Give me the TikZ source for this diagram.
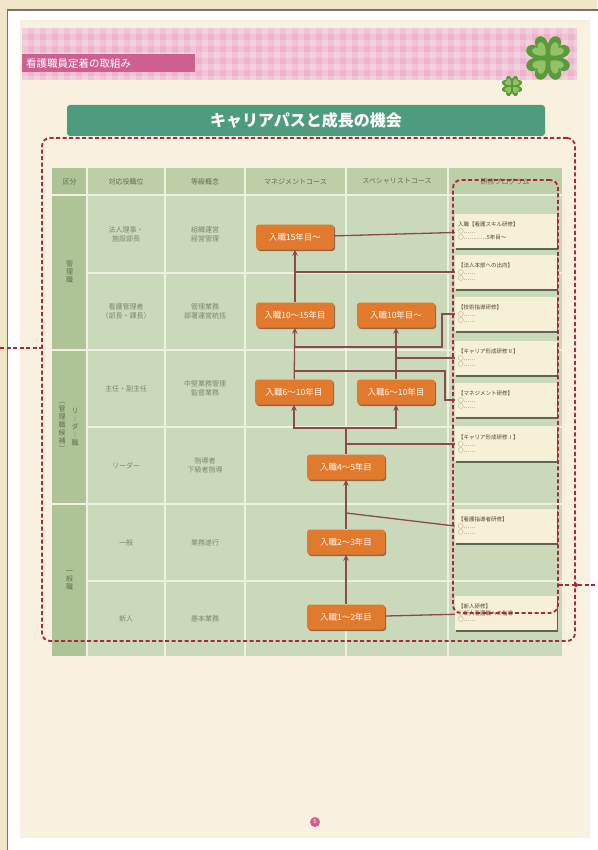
\documentclass[tikz,border=0pt]{standalone}
\usepackage{fontspec}
\setmainfont{Noto Sans CJK JP}
\usepackage{tikz}
\usetikzlibrary{arrows.meta,positioning,shadows}

\definecolor{deskbg}{HTML}{F1E6C8}
\definecolor{sheet}{HTML}{F9F1DF}
\definecolor{bandpink}{HTML}{EDB3CB}
\definecolor{tagpink}{HTML}{CE5F91}
\definecolor{titlegreen}{HTML}{4E9B7D}
\definecolor{sagebody}{HTML}{CAD9B9}
\definecolor{sagehead}{HTML}{BCCFA6}
\definecolor{sagefirst}{HTML}{AEC496}
\definecolor{gridline}{HTML}{EEF1DF}
\definecolor{stageorange}{HTML}{E27A2D}
\definecolor{stageshade}{HTML}{93674A}
\definecolor{linkbrown}{HTML}{8C4B4B}
\definecolor{framered}{HTML}{A8283C}
\definecolor{progcream}{HTML}{F5F0D6}
\definecolor{progshade}{HTML}{5F6352}
\definecolor{celltext}{HTML}{7B8671}
\definecolor{headtext}{HTML}{5F6E52}
\definecolor{progtext}{HTML}{5A4236}
\definecolor{leafdark}{HTML}{5A9A3C}
\definecolor{leaflight}{HTML}{93C266}

\tikzset{
  gridrule/.style={draw=gridline,line width=1.3pt},
  headcell/.style={font=\fontsize{7}{8}\selectfont,text=headtext},
  bodycell/.style={font=\fontsize{7}{9}\selectfont,text=celltext,align=center},
  groupcell/.style={font=\fontsize{7}{8}\selectfont,text=headtext,align=center,inner sep=0pt},
  stage/.style={rectangle,rounded corners=3pt,fill=stageorange,text=white,
    minimum width=78pt,minimum height=25pt,font=\fontsize{8.5}{9}\selectfont,
    drop shadow={shadow xshift=1.2pt,shadow yshift=-1.5pt,fill=stageshade,opacity=1}},
  prog/.style={rectangle,fill=progcream,minimum width=102pt,minimum height=34pt,
    text width=96pt,align=left,inner sep=3pt,font=\fontsize{5.5}{6.5}\selectfont,text=progtext,
    drop shadow={shadow xshift=0.8pt,shadow yshift=-2pt,fill=progshade,opacity=1}},
  link/.style={draw=linkbrown,line width=1.3pt},
  dashframe/.style={draw=framered,line width=1.8pt,dash pattern=on 4pt off 2.5pt,rounded corners=8pt},
  clover/.pic={
    \foreach \a in {45,135,225,315}{
      \fill[leafdark,rotate=\a] (0,0) .. controls (-9,-5) and (-12,-15) .. (-6,-17)
        .. controls (-3,-18) and (0,-15) .. (0,-13) .. controls (0,-15) and (3,-18) .. (6,-17)
        .. controls (12,-15) and (9,-5) .. (0,0);
      \fill[leaflight,rotate=\a] (0,-3) .. controls (-5,-6) and (-7,-12) .. (-4,-13)
        .. controls (-2,-14) and (0,-12) .. (0,-11) .. controls (0,-12) and (2,-14) .. (4,-13)
        .. controls (7,-12) and (5,-6) .. (0,-3);
    }
  }
}
\tikzstyle{arrow} = [link,-{Stealth[length=6pt,width=5.5pt]}]

\begin{document}
\begin{tikzpicture}[x=1pt,y=-1pt]
  \useasboundingbox (0,0) rectangle (597,850);
  % page sheet
  \fill[deskbg] (0,0) rectangle (597,850);
  \filldraw[fill=white,draw=black!55,line width=1.2pt] (7.5,10) rectangle (600,855);
  \fill[sheet] (20,20) rectangle (590,838);

  % gingham header band
  \fill[bandpink] (22,28) rectangle (577,80);
  \begin{scope}
    \clip (22,28) rectangle (577,80);
    \foreach \x in {22,34,...,580} \fill[white,opacity=.22] (\x,28) rectangle ++(6,52);
    \foreach \y in {28,40,...,80} \fill[white,opacity=.22] (22,\y) rectangle ++(555,6);
  \end{scope}
  \node[fill=tagpink,text=white,font=\fontsize{10.5}{11}\selectfont,minimum height=18pt,
    text width=165pt,align=left,inner xsep=4pt,inner ysep=0pt] (tag) at (108.5,63.5) {看護職員定着の取組み};
  \pic[scale=1.3] at (548,58) {clover};
  \pic[scale=.6] at (512,86) {clover};

  % title bar
  \node[fill=titlegreen,rounded corners=3pt,minimum width=478pt,minimum height=31pt,text=white,
    font=\fontsize{16}{16}\selectfont\bfseries] (title) at (306,120.5) {キャリアパスと成長の機会};

  % career table
  \fill[sagebody] (52,168) rectangle (562,656);
  \fill[sagehead] (52,168) rectangle (562,195);
  \fill[sagefirst] (52,168) rectangle (87,656);
  \foreach \x in {87,165,245,346,448} \draw[gridrule] (\x,168) -- (\x,656);
  \foreach \y in {195,350,504} \draw[gridrule] (52,\y) -- (562,\y);
  \foreach \y in {273,427,581} \draw[gridrule] (87,\y) -- (562,\y);

  \foreach \x/\t [count=\i] in {69.5/区分,126/対応役職位,205/等級概念,295.5/マネジメントコース,
      397/スペシャリストコース,505/研修プログラム}
    \node[headcell] (head\i) at (\x,181.5) {\t};
  \foreach \y/\a/\b [count=\i] in {234/{法人理事・\\施設部長}/{組織運営\\経営管理},
      311.5/{看護管理者\\（部長・課長）}/{管理業務\\部署運営統括},
      388.5/{主任・副主任}/{中堅業務管理\\監督業務},
      465.5/{リーダー}/{指導者\\下級者指導},
      542.5/{一般}/{業務遂行},
      618.5/{新人}/{基本業務}}
    {\node[bodycell] (post\i) at (126,\y) {\a};
     \node[bodycell] (grade\i) at (205,\y) {\b};}
  \node[groupcell] (grp1) at (69.5,272) {管\\理\\職};
  \node[groupcell] (grp2a) at (62,427) {︵\\管\\理\\職\\候\\補\\︶};
  \node[groupcell] (grp2b) at (75,427) {リ\\︱\\ダ\\︱\\職};
  \node[groupcell] (grp3) at (69.5,580) {一\\般\\職};

  % career steps
  \node[stage] (y15) at (295,237) {入職15年目〜};
  \node[stage] (y1015) at (295,315) {入職10〜15年目};
  \node[stage] (y10s) at (396,315) {入職10年目〜};
  \node[stage] (y610m) at (294,392) {入職6〜10年目};
  \node[stage] (y610s) at (396,392) {入職6〜10年目};
  \node[stage] (y45) at (346,467) {入職4〜5年目};
  \node[stage] (y23) at (346,542) {入職2〜3年目};
  \node[stage] (y12) at (346,617) {入職1〜2年目};

  % training programmes
  \node[prog] (p1) at (506,231) {入職【看護スキル研修】\\○……\\○…………5年目〜};
  \node[prog] (p2) at (506,272) {【法人本部への出向】\\○……\\○……};
  \node[prog] (p3) at (506,314) {【技術指導研修】\\○……\\○……};
  \node[prog] (p4) at (506,358) {【キャリア形成研修Ⅱ】\\○……\\○……};
  \node[prog] (p5) at (506,400) {【マネジメント研修】\\○……\\○……};
  \node[prog] (p6) at (506,444) {【キャリア形成研修Ⅰ】\\○……\\○……};
  \node[prog] (p7) at (506,526) {【看護指導者研修】\\○……\\○……};
  \node[prog] (p8) at (506,613) {【新人研修】\\○新人看護職への指導\\○……};

  % step arrows
  \draw[arrow] (y12) -- (y23);
  \draw[arrow] (y23) -- (y45);
  \coordinate (fork) at (346,428);
  \draw[arrow] (y45) -- (fork) -| (y610m);
  \draw[arrow] (fork) -| (y610s);
  \draw[arrow] (y610m) -- (y1015);
  \draw[arrow] (y610s) -- (y10s);
  \draw[arrow] (y1015) -- (y15);

  % links to programmes
  \draw[link] (y15) -- (p1);
  \draw[link] (y15.south |- p2.west) -- (p2.west);
  \coordinate (tap3) at (295,347);
  \draw[link] (tap3) -- ++(147,0) |- (p3.west);
  \draw[link] (y10s.south |- p4.west) -- (p4.west);
  \coordinate (tap5) at (295,371);
  \draw[link] (tap5) -- ++(150,0) |- (p5.west);
  \draw[link] (y45.north |- p6.west) -- (p6.west);
  \coordinate (tap7) at (346,513);
  \draw[link] (tap7) -- (p7.west);
  \draw[link] (y12) -- (p8);

  % dashed frames
  \node[dashframe,minimum width=533pt,minimum height=503pt] (plan) at (308.5,389.5) {};
  \node[dashframe,minimum width=105pt,minimum height=433pt] (track) at (505.5,396.5) {};
  \coordinate (leftedge) at (0,348);
  \coordinate (rightedge) at (597,585);
  \draw[dashframe] (leftedge) -- (leftedge -| plan.west);
  \draw[dashframe] (track.east |- rightedge) -- (rightedge);
  \fill[framered] (plan.east |- rightedge) circle (2pt);

  \node[circle,fill=tagpink,text=white,inner sep=0pt,minimum size=10pt,
    font=\fontsize{5.5}{6}\selectfont] (pageno) at (315,822) {5};
\end{tikzpicture}
\end{document}
